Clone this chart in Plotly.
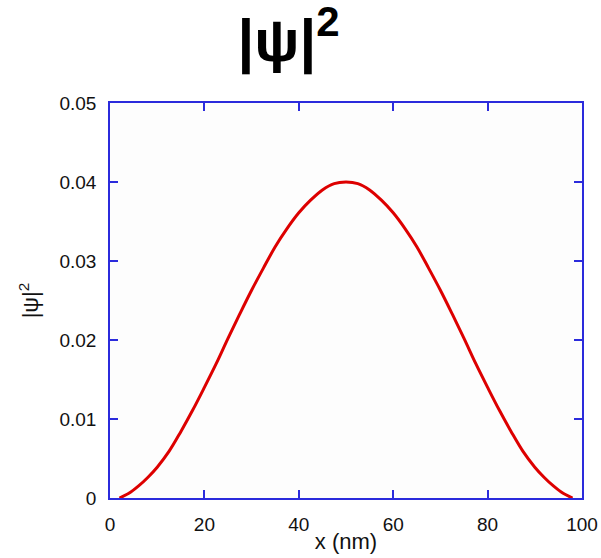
import plotly.graph_objects as go

# data
x_nm = [2, 4, 6, 8, 10, 12.5, 15, 17.5, 20, 22.5, 25, 27.5, 30, 32.5, 35, 37.5, 40, 42.5, 45, 47.5, 50,
        52.5, 55, 57.5, 60, 62.5, 65, 67.5, 70, 72.5, 75, 77.5, 80, 82.5, 85, 87.5, 90, 92, 94, 96, 98]
psi_sq = [0.0000, 0.0006, 0.0015, 0.0026, 0.0039, 0.0059, 0.0084, 0.0111, 0.0140, 0.0170, 0.0202,
          0.0233, 0.0263, 0.0291, 0.0318, 0.0341, 0.0361, 0.0377, 0.0390, 0.0398, 0.0400,
          0.0398, 0.0390, 0.0377, 0.0361, 0.0341, 0.0318, 0.0291, 0.0263, 0.0233, 0.0202,
          0.0170, 0.0140, 0.0111, 0.0084, 0.0059, 0.0039, 0.0026, 0.0015, 0.0006, 0.0000]
x_ticks = [0, 20, 40, 60, 80, 100]
y_ticks = [0, 0.01, 0.02, 0.03, 0.04, 0.05]
y_tick_text = ["0", "0.01", "0.02", "0.03", "0.04", "0.05"]

FONT = "Liberation Sans, Arial, sans-serif"
AXIS_BLUE = "#2b2bdc"

fig = go.Figure()
fig.add_trace(go.Scatter(x=x_nm, y=psi_sq, mode="lines",
                         line=dict(color="#dd0000", width=3, shape="spline", smoothing=1),
                         showlegend=False))

axis_common = dict(showline=True, linecolor=AXIS_BLUE, linewidth=1.5, mirror="ticks",
                   ticks="inside", ticklen=8, tickwidth=1.5, tickcolor=AXIS_BLUE,
                   showgrid=False, zeroline=False, automargin=False,
                   tickfont=dict(family=FONT, size=19, color="#111111"))

fig.update_xaxes(range=[0, 100], tickvals=x_ticks, ticklabelstandoff=8,
                 title=dict(text="x (nm)", font=dict(family=FONT, size=22, color="#111111"), standoff=0),
                 **axis_common)
fig.update_yaxes(range=[0, 0.05], tickvals=y_ticks, ticktext=y_tick_text, ticklabelstandoff=8,
                 title=dict(text="|ψ|<sup>2</sup>", font=dict(family=FONT, size=22, color="#111111"), standoff=15),
                 **axis_common)

fig.update_layout(
    width=601, height=558,
    margin=dict(l=110, r=19, t=103, b=60),
    paper_bgcolor="white", plot_bgcolor="#fdfdfd",
    title=dict(text="<b>|ψ|<sup>2</sup></b>", x=0.48, xanchor="center",
               y=0.928, yanchor="middle", yref="container",
               font=dict(family=FONT, size=60, color="black")),
)

fig.write_html("out.html")
